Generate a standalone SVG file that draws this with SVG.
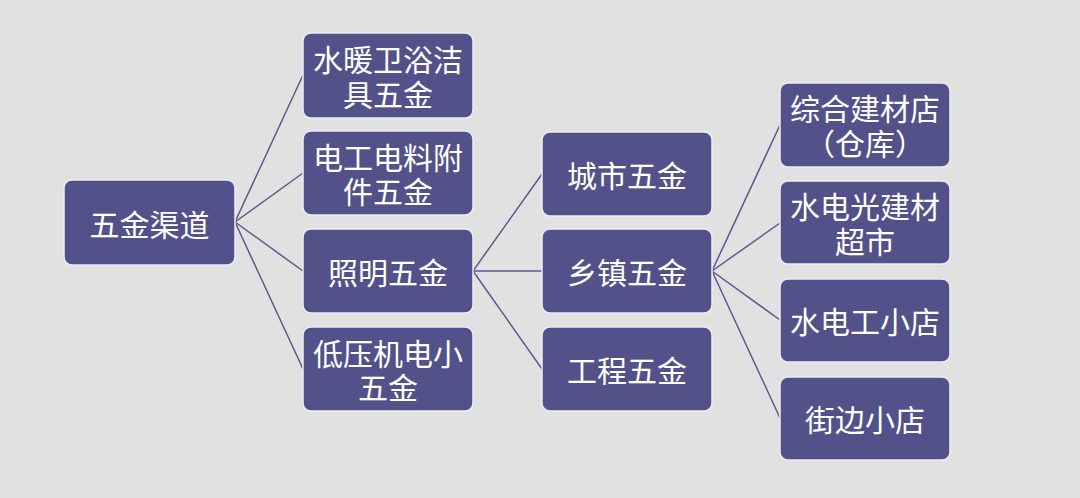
<svg xmlns="http://www.w3.org/2000/svg" width="1080" height="498" viewBox="0 0 1080 498">
<style>
.box{fill:#52518A;stroke:#EDEDF5;stroke-width:1.5}
.t{fill:#FFFFFF;font-family:"Noto Sans CJK SC","Noto Sans",sans-serif;font-size:30px;text-anchor:middle;dominant-baseline:central}
.c{stroke:#5B5A8C;stroke-width:1.5;fill:none}
</style>
<rect width="1080" height="498" fill="#E1E1E1"/>
<g id="connectors">
<path class="c" d="M235,222L303,75M235,222L303,173M235,222L303,271M235,222L303,369"/>
<path class="c" d="M473,271L542,174M473,271L542,271M473,271L542,369"/>
<path class="c" d="M712,271L780,125M712,271L780,223M712,271L780,320M712,271L780,418"/>
</g>
<g id="n-root"><rect class="box" x="64" y="180" width="171" height="85" rx="8"/><text class="t" x="149.5" y="222.5">五金渠道</text></g>
<g id="n-a1"><rect class="box" x="303" y="33" width="170" height="85" rx="8"/><text class="t" x="388" y="58">水暖卫浴洁<tspan x="388" dy="35">具五金</tspan></text></g>
<g id="n-a2"><rect class="box" x="303" y="131" width="170" height="84" rx="8"/><text class="t" x="388" y="156">电工电料附<tspan x="388" dy="34">件五金</tspan></text></g>
<g id="n-a3"><rect class="box" x="303" y="229" width="170" height="84" rx="8"/><text class="t" x="388" y="271">照明五金</text></g>
<g id="n-a4"><rect class="box" x="303" y="327" width="170" height="84" rx="8"/><text class="t" x="388" y="352">低压机电小<tspan x="388" dy="34">五金</tspan></text></g>
<g id="n-b1"><rect class="box" x="542" y="132" width="170" height="84" rx="8"/><text class="t" x="627" y="174">城市五金</text></g>
<g id="n-b2"><rect class="box" x="542" y="229" width="170" height="84" rx="8"/><text class="t" x="627" y="271">乡镇五金</text></g>
<g id="n-b3"><rect class="box" x="542" y="327" width="170" height="84" rx="8"/><text class="t" x="627" y="369">工程五金</text></g>
<g id="n-c1"><rect class="box" x="780" y="83" width="170" height="84" rx="8"/><text class="t" x="865" y="107">综合建材店<tspan x="865" dy="35">（仓库）</tspan></text></g>
<g id="n-c2"><rect class="box" x="780" y="181" width="170" height="83" rx="8"/><text class="t" x="865" y="205">水电光建材<tspan x="865" dy="35">超市</tspan></text></g>
<g id="n-c3"><rect class="box" x="780" y="279" width="170" height="83" rx="8"/><text class="t" x="865" y="320">水电工小店</text></g>
<g id="n-c4"><rect class="box" x="780" y="377" width="170" height="83" rx="8"/><text class="t" x="865" y="418">街边小店</text></g>
</svg>
